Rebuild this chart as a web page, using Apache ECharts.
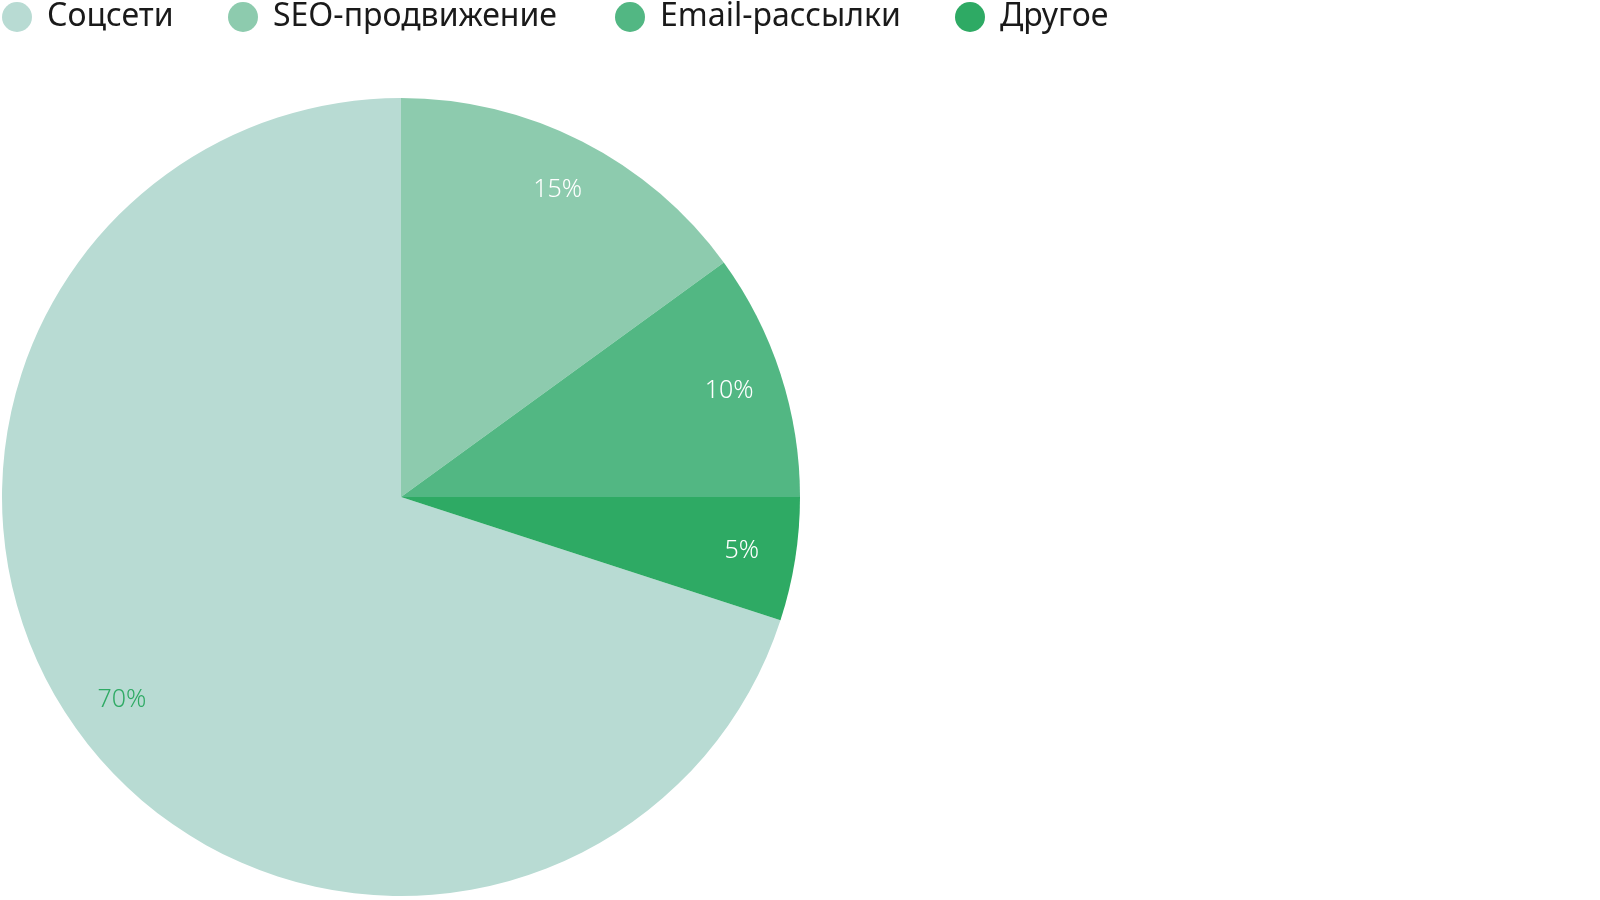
<!DOCTYPE html>
<html>
<head>
<meta charset="utf-8">
<script src="https://cdn.jsdelivr.net/npm/echarts@6/dist/echarts.min.js"></script>
<style>
  html, body { margin: 0; padding: 0; background: #fff; }
  #container { width: 1600px; height: 900px; }
</style>
</head>
<body>
<div id="container"></div>
<script>
(function () {
    'use strict';

    var categories = ['Соцсети', 'SEO-продвижение', 'Email-рассылки', 'Другое'];
    var values = [70, 15, 10, 5];
    var colors = ['#b8dbd3', '#8dcbae', '#52b783', '#2eaa64'];
    var labelColors = ['#2eaa64', '#ffffff', '#ffffff', '#ffffff'];
    var legendLeft = [2, 228, 615, 955];

    var dom = document.getElementById('container');
    var myChart = echarts.init(dom);
    var fontFamily = '"Noto Sans", Lato, sans-serif';

    var pieData = categories.map(function (name, i) {
        return { name: name, value: values[i], itemStyle: { color: colors[i] } };
    });

    // transparent ring on top, only to place labels near the rim
    var labelData = categories.map(function (name, i) {
        return {
            name: name,
            value: values[i],
            itemStyle: { color: 'rgba(0,0,0,0)' },
            label: { color: labelColors[i] }
        };
    });

    // one legend per item so each sits where the original put it
    var legends = categories.map(function (name, i) {
        return {
            left: legendLeft[i],
            top: 1,
            padding: 0,
            icon: 'circle',
            itemWidth: 30,
            itemHeight: 30,
            data: [name],
            selectedMode: false,
            textStyle: {
                fontFamily: fontFamily,
                fontSize: 32,
                color: '#1a1a1a',
                padding: [0, 0, 0, 10]
            }
        };
    });

    var option = {
        animation: false,
        legend: legends,
        series: [
            {
                type: 'pie',
                radius: 399,
                center: [401, 497],
                startAngle: -18,
                clockwise: true,
                silent: true,
                label: { show: false },
                labelLine: { show: false },
                data: pieData
            },
            {
                type: 'pie',
                radius: [285, 399],
                center: [401, 497],
                startAngle: -18,
                clockwise: true,
                silent: true,
                label: {
                    show: true,
                    position: 'inside',
                    formatter: '{c}%',
                    fontFamily: fontFamily,
                    fontSize: 25,
                    fontWeight: 300
                },
                labelLine: { show: false },
                data: labelData
            }
        ]
    };

    myChart.setOption(option);
})();
</script>
</body>
</html>
